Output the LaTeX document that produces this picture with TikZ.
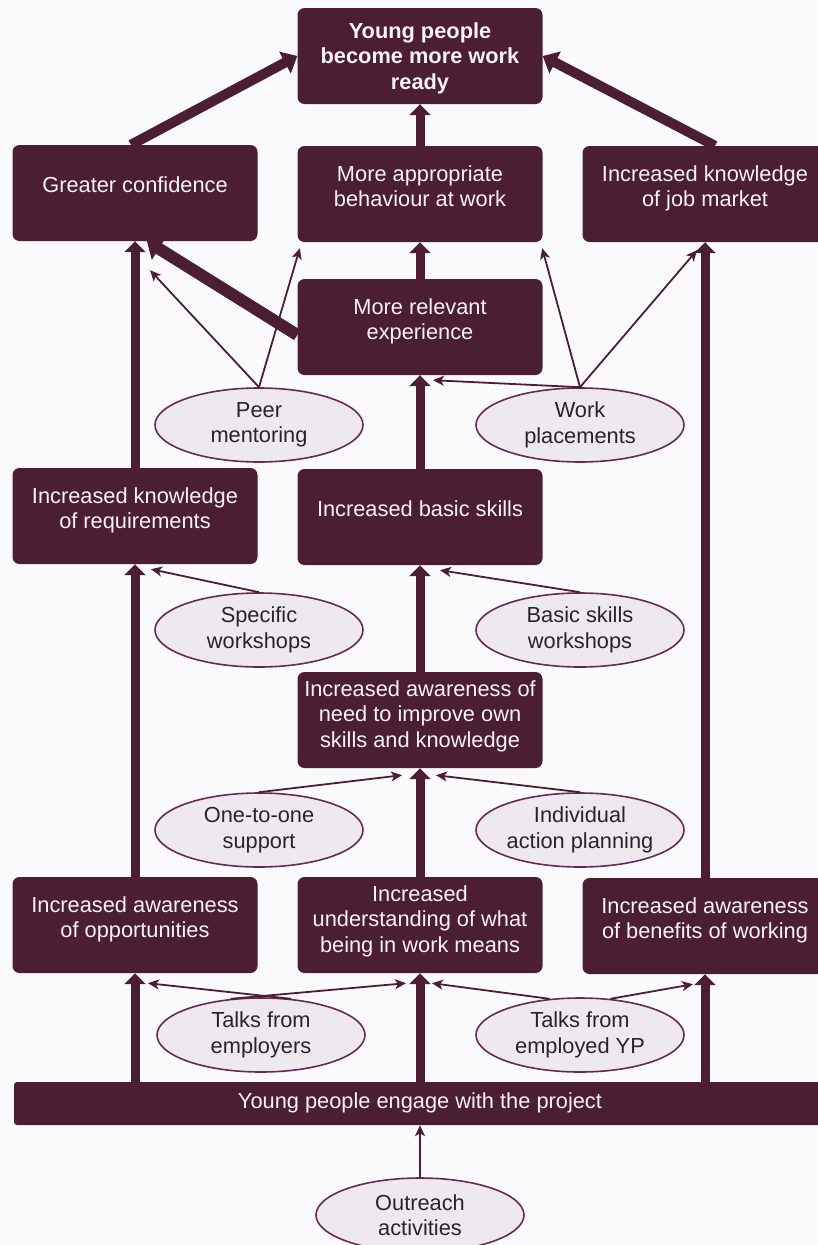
\documentclass[tikz,border=0pt]{standalone}
\usepackage{fontspec}
\setmainfont{Liberation Sans}
\usepackage{xcolor}
\usetikzlibrary{shapes.geometric,arrows.meta}
\definecolor{plum}{RGB}{76,30,50}
\definecolor{oval}{RGB}{238,233,238}
\definecolor{ovaledge}{RGB}{102,42,84}
\definecolor{paper}{RGB}{250,250,252}
\definecolor{boxtext}{RGB}{246,242,246}
\tikzstyle{outcome}=[rectangle, rounded corners=7pt, fill=plum, text=boxtext, minimum width=245pt, minimum height=96pt, inner sep=0pt, text depth=16pt, align=center, font=\fontsize{21.8}{25.5}\selectfont]
\tikzstyle{activity}=[ellipse, draw=ovaledge, line width=1.6pt, fill=oval, text=black!85, minimum width=208pt, minimum height=74pt, inner sep=0pt, align=center, font=\fontsize{21.8}{25.5}\selectfont]
\tikzset{goal/.style={text depth=0pt, font=\fontsize{21.8}{25.5}\selectfont\bfseries}}
\tikzset{mainlink/.style={-{Triangle[length=11pt,width=21pt]}, line width=9pt, color=plum}}
\tikzset{sidelink/.style={-{Stealth[length=11pt,width=10pt,inset=3pt]}, line width=1.8pt, color=plum}}

\begin{document}
\begin{tikzpicture}[x=1pt,y=-1pt]
  \fill[paper] (0,0) rectangle (818,1245);
  \useasboundingbox (0,0) rectangle (818,1245);

  \draw (420,56) node[outcome,goal] (Goal) {Young people\\become more work\\ready};

  \draw (135,193) node[outcome] (Conf) {Greater confidence};
  \draw (420,194) node[outcome] (Behav) {More appropriate\\behaviour at work};
  \draw (705,194) node[outcome] (Market) {Increased knowledge\\of job market};

  \draw (420,327) node[outcome] (Exper) {More relevant\\experience};
  \draw (259,425) node[activity] (Peer) {Peer\\mentoring};
  \draw (580,425) node[activity] (Place) {Work\\placements};

  \draw (135,516) node[outcome] (Req) {Increased knowledge\\of requirements};
  \draw (420,517) node[outcome] (Basic) {Increased basic skills};
  \draw (259,630) node[activity] (Spec) {Specific\\workshops};
  \draw (580,630) node[activity] (BasicWS) {Basic skills\\workshops};

  \draw (420,720) node[outcome,text depth=12pt] (Need) {Increased awareness of\\need to improve own\\skills and knowledge};
  \draw (259,830) node[activity] (OneOne) {One-to-one\\support};
  \draw (580,830) node[activity] (Plan) {Individual\\action planning};

  \draw (135,925) node[outcome] (Opp) {Increased awareness\\of opportunities};
  \draw (420,925) node[outcome,text depth=12pt] (Under) {Increased\\understanding of what\\being in work means};
  \draw (705,926) node[outcome] (Benefit) {Increased awareness\\of benefits of working};
  \draw (261,1035) node[activity] (TalkEmp) {Talks from\\employers};
  \draw (580,1035) node[activity] (TalkYP) {Talks from\\employed YP};

  \draw (420,1103.5) node[outcome,minimum width=812pt,minimum height=43pt,rounded corners=3pt,text depth=5pt] (Engage) {Young people engage with the project};
  \draw (420,1215) node[activity] (Outreach) {Outreach\\activities};

  %% Main chain
  \draw[mainlink,line width=10pt,-{Triangle[length=14pt,width=24pt]}] ([xshift=-4pt]Conf.north) -- (Goal.west);
  \draw[mainlink] (Behav) -- (Goal);
  \draw[mainlink,line width=10pt,-{Triangle[length=14pt,width=24pt]}] ([xshift=10pt]Market.north) -- (Goal.east);
  \draw[mainlink] (Exper) -- (Behav);
  \draw[mainlink,line width=12pt,-{Triangle[length=14pt,width=26pt]}] ([yshift=-8pt]Exper.west) -- ([xshift=12pt]Conf.south);
  \draw[mainlink] (Req) -- (Conf);
  \draw[mainlink] (Basic) -- (Exper);
  \draw[mainlink] (Benefit) -- (Market);
  \draw[mainlink] (Opp) -- (Req);
  \draw[mainlink] (Need) -- (Basic);
  \draw[mainlink] (Under) -- (Need);
  \draw[mainlink] (Opp.south |- Engage.north) -- (Opp);
  \draw[mainlink] (Under.south |- Engage.north) -- (Under);
  \draw[mainlink] (Benefit.south |- Engage.north) -- (Benefit);

  %% Activities
  \draw[sidelink] (Peer.north) -- ([xshift=15pt,yshift=-29pt]Conf.south);
  \draw[sidelink] (Peer.north) -- ([xshift=2.5pt,yshift=-6pt]Behav.south west);
  \draw[sidelink] (Place.north) -- ([xshift=-0.5pt,yshift=-6pt]Behav.south east);
  \draw[sidelink] (Place.north) -- ([xshift=-8pt,yshift=-8pt]Market.south);
  \draw[sidelink] (Place.north) -- ([xshift=13pt,yshift=-5pt]Exper.south);
  \draw[sidelink] (Spec.north) -- ([xshift=16pt,yshift=-5pt]Req.south);
  \draw[sidelink] (BasicWS.north) -- ([xshift=20pt,yshift=-5pt]Basic.south);
  \draw[sidelink] (OneOne.north) -- ([xshift=-18pt,yshift=-7pt]Need.south);
  \draw[sidelink] (Plan.north) -- ([xshift=16pt,yshift=-7pt]Need.south);
  \draw[sidelink] (TalkEmp.50) -- ([xshift=13pt,yshift=-10pt]Opp.south);
  \draw[sidelink] (TalkEmp.130) -- ([xshift=-14pt,yshift=-10pt]Under.south);
  \draw[sidelink] (TalkYP.130) -- ([xshift=12pt,yshift=-10pt]Under.south);
  \draw[sidelink] (TalkYP.50) -- ([xshift=-12pt,yshift=-10pt]Benefit.south);
  \draw[sidelink] (Outreach) -- (Engage);
\end{tikzpicture}
\end{document}
